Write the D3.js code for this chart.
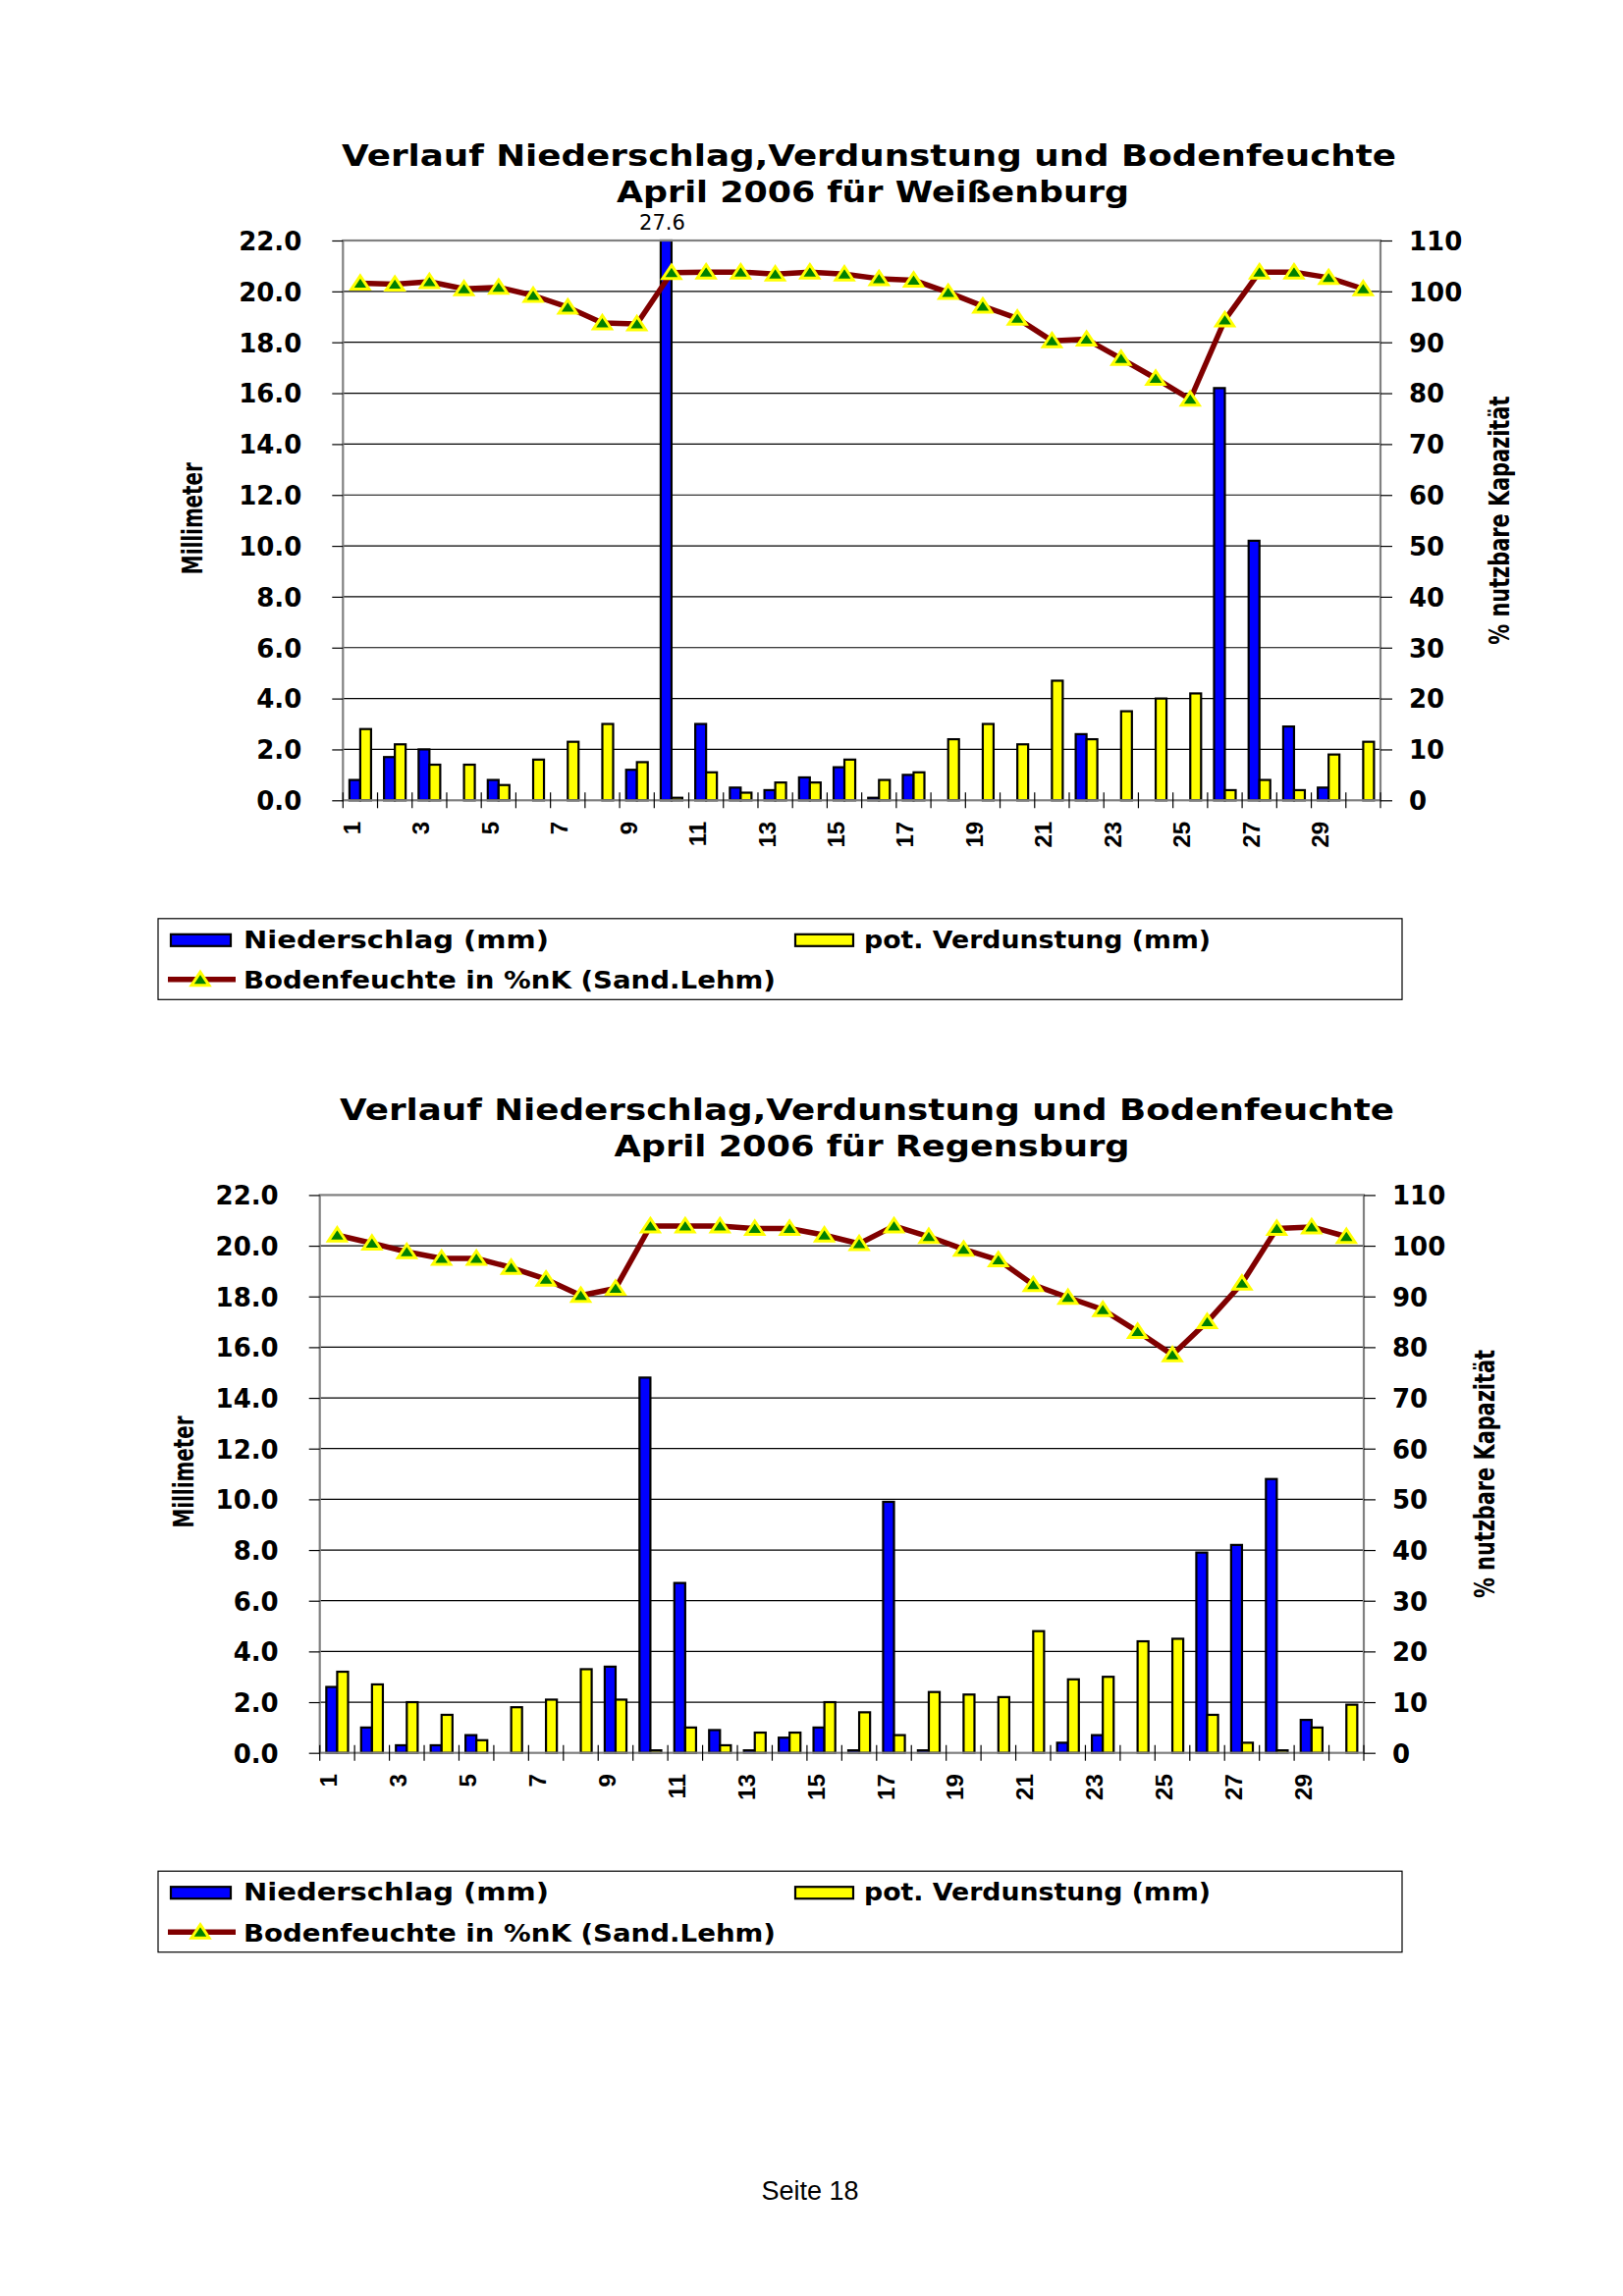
<!DOCTYPE html>
<html><head><meta charset="utf-8">
<script src="https://cdn.jsdelivr.net/npm/d3@7"></script>
<style>
html,body{margin:0;padding:0;background:#fff;}
svg{display:block;}
</style></head>
<body>
<svg id="page" width="1653" height="2339"></svg>
<script>
// ---------- data ----------
const days = [1,2,3,4,5,6,7,8,9,10,11,12,13,14,15,16,17,18,19,20,21,22,23,24,25,26,27,28,29,30];
const xTickLabels = [1,3,5,7,9,11,13,15,17,19,21,23,25,27,29];
const mmTicks = [0,2,4,6,8,10,12,14,16,18,20,22];
const pctTicks = [0,10,20,30,40,50,60,70,80,90,100,110];

const wbNiederschlag = [0.8,1.7,2.0,0,0.8,0,0,0,1.2,27.6,3.0,0.5,0.4,0.9,1.3,0.1,1.0,0,0,0,0,2.6,0,0,0,16.2,10.2,2.9,0.5,0];
const wbVerdunstung  = [2.8,2.2,1.4,1.4,0.6,1.6,2.3,3.0,1.5,0.1,1.1,0.3,0.7,0.7,1.6,0.8,1.1,2.4,3.0,2.2,4.7,2.4,3.5,4.0,4.2,0.4,0.8,0.4,1.8,2.3];
const wbBodenfeuchte = [101.6,101.4,101.9,100.5,100.8,99.2,96.9,93.8,93.6,103.7,103.8,103.8,103.4,103.8,103.4,102.5,102.2,99.8,97.1,94.7,90.3,90.6,86.8,82.9,78.8,94.4,103.8,103.8,102.7,100.5];

const rgNiederschlag = [2.6,1.0,0.3,0.3,0.7,0,0,0,3.4,14.8,6.7,0.9,0.1,0.6,1.0,0.1,9.9,0.1,0,0,0,0.4,0.7,0,0,7.9,8.2,10.8,1.3,0];
const rgVerdunstung  = [3.2,2.7,2.0,1.5,0.5,1.8,2.1,3.3,2.1,0.1,1.0,0.3,0.8,0.8,2.0,1.6,0.7,2.4,2.3,2.2,4.8,2.9,3.0,4.4,4.5,1.5,0.4,0.1,1.0,1.9];
const rgBodenfeuchte = [102.1,100.5,98.8,97.5,97.5,95.7,93.4,90.2,91.6,103.9,103.9,103.9,103.4,103.4,102.1,100.4,103.9,101.8,99.3,97.2,92.3,89.8,87.4,83.1,78.5,85.0,92.6,103.4,103.7,101.8];

const wbTitle = ["Verlauf Niederschlag,Verdunstung und Bodenfeuchte", "April 2006 für Weißenburg"];
const rgTitle = ["Verlauf Niederschlag,Verdunstung und Bodenfeuchte", "April 2006 für Regensburg"];
const legendLabels = ["Niederschlag (mm)", "pot. Verdunstung (mm)", "Bodenfeuchte in %nK (Sand.Lehm)"];
const axisTitles = ["Millimeter", "% nutzbare Kapazität"];
const pageLabel = "Seite 18";

// ---------- styles ----------
const C = {blue:"#0000ff", yellow:"#ffff00", line:"#800000", marker:"#008000", markerStroke:"#ffff00", grid:"#000", border:"#808080"};
const BOLD = "'DejaVu Sans', Verdana, sans-serif";
const ARIAL = "'Liberation Sans', Arial, sans-serif";
// triangle marker shape (relative to the data point)
const TRI = "M0,-7.5L9,6L-9,6Z";

const svg = d3.select("#page");
svg.append("rect").attr("width",1653).attr("height",2339).attr("fill","#fff");

function drawChart(o) {
  const g = svg.append("g");
  const x = d3.scaleBand().domain(days).range([o.left, o.right]);
  const xi = d3.scaleBand().domain(["n","v"]).range([0, x.bandwidth()]).paddingOuter(0.6);
  const yL = d3.scaleLinear().domain([0, 22]).range([o.bottom, o.top]);
  const yR = d3.scaleLinear().domain([0, 110]).range([o.bottom, o.top]);

  // title
  o.title.forEach((t, i) => {
    g.append("text").attr("x", o.titleX[i]).attr("y", o.top + o.titleDy[i])
      .attr("text-anchor","middle").attr("font-family",BOLD).attr("font-weight","bold")
      .attr("font-size",31).attr("textLength", o.titleLen[i]).attr("lengthAdjust","spacingAndGlyphs")
      .text(t);
  });

  // gridlines
  g.append("g").selectAll("line").data(mmTicks.filter(d => d > 0 && d < 22)).join("line")
    .attr("x1", o.left).attr("x2", o.right)
    .attr("y1", d => yL(d)).attr("y2", d => yL(d))
    .attr("stroke", C.grid).attr("stroke-width", 1.2);

  // bars
  const rows = days.map((d, i) => ({day: d, n: o.nied[i], v: o.verd[i]}));
  const clamp = v => Math.min(v, 22);
  g.append("g").selectAll("rect").data(rows.filter(r => r.n > 0)).join("rect")
    .attr("x", r => x(r.day) + xi("n")).attr("width", xi.bandwidth())
    .attr("y", r => yL(clamp(r.n))).attr("height", r => yL(0) - yL(clamp(r.n)))
    .attr("fill", C.blue).attr("stroke","#000").attr("stroke-width",2.2);
  g.append("g").selectAll("rect").data(rows.filter(r => r.v > 0)).join("rect")
    .attr("x", r => x(r.day) + xi("v")).attr("width", xi.bandwidth())
    .attr("y", r => yL(r.v)).attr("height", r => yL(0) - yL(r.v))
    .attr("fill", C.yellow).attr("stroke","#000").attr("stroke-width",2.2);

  // overflow labels (value beyond axis maximum)
  g.append("g").selectAll("text").data(rows.filter(r => r.n > 22)).join("text")
    .attr("x", r => x(r.day) + xi("n") + xi.bandwidth()/2 - 4).attr("y", o.top - 11.5)
    .attr("text-anchor","middle").attr("font-family",BOLD).attr("font-size",21)
    .text(r => d3.format(".1f")(r.n));

  // plot border
  g.append("rect").attr("x",o.left).attr("y",o.top).attr("width",o.right-o.left).attr("height",o.bottom-o.top)
    .attr("fill","none").attr("stroke",C.border).attr("stroke-width",2.2);

  // line + markers
  const cx = d => x(d) + x.bandwidth()/2;
  const pts = days.map((d, i) => [cx(d), yR(o.boden[i])]);
  g.append("path").attr("d", d3.line()(pts)).attr("fill","none")
    .attr("stroke", C.line).attr("stroke-width",5.5).attr("stroke-linejoin","round");
  g.append("g").selectAll("path").data(pts).join("path")
    .attr("d", TRI).attr("transform", p => `translate(${p[0]},${p[1]})`)
    .attr("fill", C.marker).attr("stroke", C.markerStroke).attr("stroke-width",3);

  // left axis
  const ax = g.append("g").attr("transform",`translate(${o.left},0)`)
    .call(d3.axisLeft(yL).tickValues(mmTicks).tickFormat(d3.format(".1f")).tickSize(11).tickPadding(31));
  ax.select(".domain").remove();
  ax.selectAll("line").attr("stroke","#000").attr("stroke-width",1.2);
  ax.selectAll("text").attr("font-family",BOLD).attr("font-weight","bold").attr("font-size",26).attr("fill","#000").attr("dy","0.36em");

  // right axis
  const ar = g.append("g").attr("transform",`translate(${o.right},0)`)
    .call(d3.axisRight(yR).tickValues(pctTicks).tickSize(12).tickPadding(17));
  ar.select(".domain").remove();
  ar.selectAll("line").attr("stroke","#000").attr("stroke-width",1.2);
  ar.selectAll("text").attr("font-family",BOLD).attr("font-weight","bold").attr("font-size",26).attr("fill","#000").attr("dy","0.36em");

  // x axis: boundary ticks
  g.append("g").selectAll("line").data(days.map(d => x(d)).concat([o.right])).join("line")
    .attr("x1", d => d).attr("x2", d => d).attr("y1", o.bottom - 8).attr("y2", o.bottom + 8)
    .attr("stroke","#000").attr("stroke-width",1.2);
  const axb = g.append("g").attr("transform",`translate(0,${o.bottom})`)
    .call(d3.axisBottom(x).tickValues(xTickLabels).tickSize(0));
  axb.select(".domain").remove();
  axb.selectAll("text").attr("x",0).attr("y",0).attr("dy",0)
    .attr("transform","translate(0,21.5) rotate(-90)").attr("text-anchor","end")
    .attr("font-family",ARIAL).attr("font-weight","bold").attr("font-size",24).attr("fill","#000");

  // axis titles
  g.append("text").attr("transform",`translate(${o.ytX},${(o.top+o.bottom)/2 - 2}) rotate(-90)`)
    .attr("text-anchor","middle").attr("font-family",BOLD).attr("font-weight","bold").attr("font-size",28)
    .attr("textLength",114).attr("lengthAdjust","spacingAndGlyphs").text(axisTitles[0]);
  g.append("text").attr("transform",`translate(${o.y2tX},${(o.top+o.bottom)/2}) rotate(-90)`)
    .attr("text-anchor","middle").attr("font-family",BOLD).attr("font-weight","bold").attr("font-size",28)
    .attr("textLength",253).attr("lengthAdjust","spacingAndGlyphs").text(axisTitles[1]);

  // legend
  const ly = o.bottom + 120.5;
  const lg = g.append("g");
  lg.append("rect").attr("x",161).attr("y",ly).attr("width",1267).attr("height",82.5)
    .attr("fill","#fff").attr("stroke","#000").attr("stroke-width",1.2);
  lg.append("rect").attr("x",174).attr("y",ly+16).attr("width",61).attr("height",12)
    .attr("fill",C.blue).attr("stroke","#000").attr("stroke-width",2.2);
  lg.append("rect").attr("x",810).attr("y",ly+16).attr("width",59).attr("height",12)
    .attr("fill",C.yellow).attr("stroke","#000").attr("stroke-width",2.2);
  lg.append("line").attr("x1",171).attr("x2",240).attr("y1",ly+62).attr("y2",ly+62)
    .attr("stroke",C.line).attr("stroke-width",5.5);
  lg.append("path").attr("d",TRI).attr("transform",`translate(204,${ly+62})`)
    .attr("fill",C.marker).attr("stroke",C.markerStroke).attr("stroke-width",3);
  const lt = [[248, ly+30, 311], [880, ly+30, 353], [248, ly+71.5, 542]];
  lt.forEach((p, i) => {
    lg.append("text").attr("x",p[0]).attr("y",p[1]).attr("font-family",BOLD).attr("font-weight","bold")
      .attr("font-size",24).attr("textLength",p[2]).attr("lengthAdjust","spacingAndGlyphs").text(legendLabels[i]);
  });
}

drawChart({left:349.3, right:1406, top:245, bottom:815.3,
  title: wbTitle, titleX:[885, 889], titleDy:[-76, -39.5], titleLen:[1074, 522],
  nied: wbNiederschlag, verd: wbVerdunstung, boden: wbBodenfeuchte,
  ytX: 206, y2tX: 1537});

drawChart({left:325.7, right:1389, top:1217.4, bottom:1785.7,
  title: rgTitle, titleX:[883, 888], titleDy:[-76, -39.5], titleLen:[1074, 525],
  nied: rgNiederschlag, verd: rgVerdunstung, boden: rgBodenfeuchte,
  ytX: 197, y2tX: 1522});

svg.append("text").attr("x",825).attr("y",2241).attr("text-anchor","middle")
  .attr("font-family",ARIAL).attr("font-size",27).text(pageLabel);
</script>
</body></html>
